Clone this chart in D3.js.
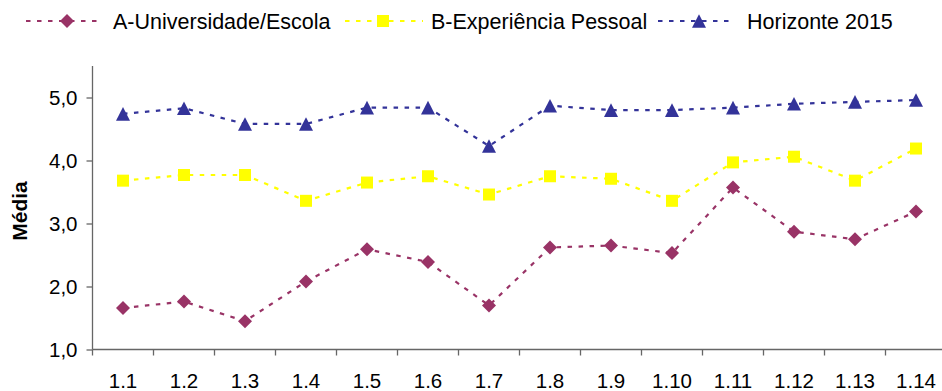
<!DOCTYPE html>
<html>
<head>
<meta charset="utf-8">
<script src="https://cdn.jsdelivr.net/npm/d3@7/dist/d3.min.js"></script>
<style>
  html, body { margin: 0; padding: 0; background: #fff; }
  svg { display: block; font-family: "Liberation Sans", Arial, sans-serif; }
</style>
</head>
<body>
<svg id="chart" width="942" height="391"></svg>
<script>
// Categories (items 1.1 – 1.14)
const categories = ["1.1","1.2","1.3","1.4","1.5","1.6","1.7","1.8","1.9","1.10","1.11","1.12","1.13","1.14"];

// Mean scores per series
const universidade = [1.66, 1.76, 1.45, 2.08, 2.59, 2.39, 1.70, 2.62, 2.65, 2.53, 3.57, 2.87, 2.75, 3.19];
const experiencia  = [3.68, 3.77, 3.77, 3.36, 3.65, 3.75, 3.46, 3.75, 3.71, 3.36, 3.97, 4.06, 3.68, 4.19];
const horizonte    = [4.74, 4.83, 4.58, 4.58, 4.84, 4.84, 4.23, 4.87, 4.80, 4.80, 4.84, 4.90, 4.93, 4.96];

const yTicks = [1, 2, 3, 4, 5];
const seriesNames = ["A-Universidade/Escola", "B-Experiência Pessoal", "Horizonte 2015"];

const series = [
  { name: seriesNames[0], values: universidade, color: "#993366", marker: "diamond" },
  { name: seriesNames[1], values: experiencia,  color: "#FFFF00", marker: "square" },
  { name: seriesNames[2], values: horizonte,    color: "#333399", marker: "triangle" }
];

const svg = d3.select("#chart");
const plot = { left: 92.5, top: 66, bottom: 349.5, step: 61 };

const x = d3.scaleBand()
  .domain(categories)
  .range([plot.left, plot.left + plot.step * categories.length])
  .padding(0);
const y = d3.scaleLinear().domain([1, 5.5]).range([plot.bottom, plot.top]);
const cx = c => x(c) + x.bandwidth() / 2;

// Marker path generators, centred on their bounding box
function markerPath(type) {
  if (type === "diamond") { const r = 7; return `M0,${-r}L${r},0L0,${r}L${-r},0Z`; }
  if (type === "square")  { const s = 6; return `M${-s},${-s}H${s}V${s}H${-s}Z`; }
  const w = 7, h = 6.8; return `M0,${-h}L${w},${h}L${-w},${h}Z`;
}

const axisColor = "#666";

// Y axis
const yAxis = d3.axisLeft(y).tickValues(yTicks).tickSize(6).tickPadding(9)
  .tickFormat(d => d3.format(".1f")(d).replace(".", ","));
const gy = svg.append("g").attr("transform", `translate(${plot.left},0)`).call(yAxis);
gy.select(".domain").attr("stroke", axisColor).attr("stroke-width", 1.3)
  .attr("d", `M0,${plot.top}V${plot.bottom}`);
gy.selectAll(".tick line").attr("stroke", axisColor).attr("stroke-width", 1.3);
gy.selectAll(".tick text").attr("fill", "#000").style("font-size", "20.5px");

// X axis: ticks at category boundaries, labels centred
const xAxis = d3.axisBottom(x).tickSize(0).tickPadding(24);
const gx = svg.append("g").attr("transform", `translate(0,${plot.bottom})`).call(xAxis);
gx.select(".domain").attr("stroke", axisColor).attr("stroke-width", 1.3)
  .attr("d", `M${plot.left},0H942`);
gx.selectAll(".tick text").attr("fill", "#000").style("font-size", "20.5px");
gx.selectAll(".boundary")
  .data(categories.map((c) => x(c)))
  .join("line")
  .attr("x1", d => d).attr("x2", d => d)
  .attr("y1", 0).attr("y2", 6)
  .attr("stroke", axisColor).attr("stroke-width", 1.3);

// Y axis title
svg.append("text")
  .attr("transform", `translate(27,211) rotate(-90)`)
  .attr("text-anchor", "middle")
  .style("font-size", "21px").style("font-weight", "bold")
  .text("Média");

// Series lines and markers
const line = d3.line().x((d, i) => cx(categories[i])).y(d => y(d));
series.forEach(s => {
  svg.append("path")
    .datum(s.values)
    .attr("d", line)
    .attr("fill", "none")
    .attr("stroke", s.color)
    .attr("stroke-width", 2.2)
    .attr("stroke-dasharray", "4.5,6.5");
  svg.append("g").selectAll("path")
    .data(s.values)
    .join("path")
    .attr("transform", (d, i) => `translate(${cx(categories[i])},${y(d)})`)
    .attr("d", markerPath(s.marker))
    .attr("fill", s.color);
});

// Legend
const legendItems = [
  { x0: 26, x1: 102, mx: 67, tx: 113 },
  { x0: 345, x1: 423, mx: 383, tx: 431 },
  { x0: 658, x1: 735, mx: 699, tx: 747 }
];
const legendY = 21;
const lg = svg.append("g");
series.forEach((s, i) => {
  const it = legendItems[i];
  lg.append("line")
    .attr("x1", it.x0).attr("x2", it.x1)
    .attr("y1", legendY).attr("y2", legendY)
    .attr("stroke", s.color).attr("stroke-width", 2.2)
    .attr("stroke-dasharray", "4.5,6.5");
  lg.append("path")
    .attr("transform", `translate(${it.mx},${legendY})`)
    .attr("d", markerPath(s.marker))
    .attr("fill", s.color);
  lg.append("text")
    .attr("x", it.tx).attr("y", legendY)
    .attr("dy", "0.36em")
    .style("font-size", "21.5px")
    .text(s.name);
});
</script>
</body>
</html>
